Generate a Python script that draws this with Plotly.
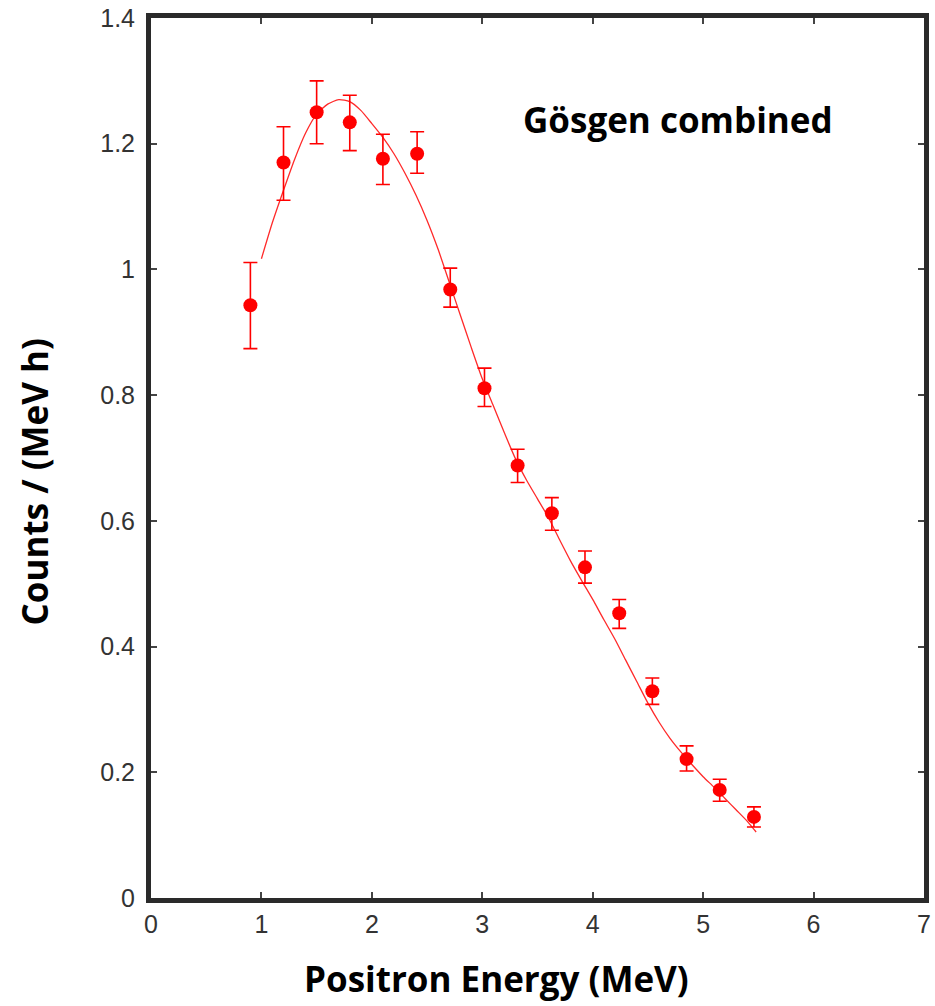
import plotly.graph_objects as go

# Data points (Positron energy in MeV, counts per MeV h)
energy = [0.90, 1.20, 1.50, 1.80, 2.10, 2.41, 2.71, 3.02, 3.32, 3.63, 3.93, 4.24, 4.54, 4.85, 5.15, 5.46]
counts = [0.943, 1.170, 1.250, 1.234, 1.176, 1.184, 0.968, 0.811, 0.688, 0.612, 0.526, 0.453, 0.329, 0.221, 0.172, 0.129]
err_up = [0.068, 0.057, 0.050, 0.043, 0.039, 0.035, 0.034, 0.032, 0.026, 0.025, 0.026, 0.022, 0.021, 0.021, 0.017, 0.016]
err_dn = [0.069, 0.060, 0.050, 0.045, 0.041, 0.031, 0.028, 0.029, 0.027, 0.027, 0.025, 0.024, 0.021, 0.019, 0.018, 0.016]

# Fit curve
fit_x = [1.00, 1.10, 1.20, 1.30, 1.40, 1.50, 1.60, 1.70, 1.80, 1.90, 2.00, 2.10, 2.20, 2.30,
         2.40, 2.50, 2.60, 2.70, 2.80, 2.90, 3.00, 3.10, 3.20, 3.30, 3.40, 3.50, 3.60, 3.70,
         3.80, 3.90, 4.00, 4.10, 4.20, 4.30, 4.40, 4.50, 4.60, 4.70, 4.80, 4.90, 5.00, 5.10,
         5.20, 5.30, 5.40, 5.48]
fit_y = [1.017, 1.075, 1.126, 1.175, 1.217, 1.247, 1.263, 1.270, 1.267, 1.253, 1.232, 1.210,
         1.184, 1.153, 1.118, 1.078, 1.032, 0.980, 0.928, 0.876, 0.826, 0.783, 0.740, 0.699,
         0.665, 0.635, 0.605, 0.570, 0.536, 0.505, 0.475, 0.443, 0.412, 0.378, 0.344, 0.310,
         0.280, 0.254, 0.232, 0.212, 0.193, 0.176, 0.158, 0.140, 0.122, 0.105]

x_ticks = [0, 1, 2, 3, 4, 5, 6, 7]
y_ticks = [0, 0.2, 0.4, 0.6, 0.8, 1.0, 1.2, 1.4]

RED = "#ff0000"
FRAME = "#2a2a2a"

# Plot area in pixels: x 151..931, y 17..898
L, R, T, B = 151, 931, 17, 898
W, H = R - L, B - T


def px(xp, yp):
    return (xp - L) / W, (B - yp) / H


fig = go.Figure()
fig.add_trace(go.Scatter(
    x=fit_x, y=fit_y, mode="lines",
    line=dict(color="#ff2a2a", width=1.3, shape="spline", smoothing=0.6),
    hoverinfo="skip", showlegend=False))
fig.add_trace(go.Scatter(
    x=energy, y=counts, mode="markers",
    marker=dict(color=RED, size=14, line=dict(width=0)),
    error_y=dict(type="data", symmetric=False, array=err_up, arrayminus=err_dn,
                 color=RED, thickness=1.6, width=7),
    showlegend=False))

axis_common = dict(
    showline=True, linewidth=5, linecolor=FRAME, mirror="ticks",
    ticks="inside", ticklen=6, tickwidth=1.5, tickcolor="#444444",
    showgrid=False, zeroline=False,
    tickfont=dict(family="Liberation Sans, Arial, sans-serif", size=25, color="#333333"),
)

fig.update_xaxes(range=[0, 7], tickvals=x_ticks, ticklabelstandoff=0, **axis_common)
fig.update_yaxes(range=[0, 1.4], tickvals=y_ticks, ticklabelstandoff=6, **axis_common)

xa, ya = px(500, 979)
fig.add_annotation(x=xa, y=ya, xref="paper", yref="paper", xanchor="center", yanchor="middle",
                   text="<b>Positron Energy (MeV)</b>", showarrow=False,
                   font=dict(family="Open Sans, sans-serif", size=35, color="black"))
xa, ya = px(33, 482)
fig.add_annotation(x=xa, y=ya, xref="paper", yref="paper", xanchor="center", yanchor="middle",
                   text="<b>Counts / (MeV h)</b>", textangle=-90, showarrow=False,
                   font=dict(family="Open Sans, sans-serif", size=35, color="black"))
xa, ya = px(683, 119)
fig.add_annotation(x=xa, y=ya, xref="paper", yref="paper", xanchor="center", yanchor="middle",
                   text="<b>Gösgen combined</b>", showarrow=False,
                   font=dict(family="Open Sans, sans-serif", size=35, color="black"))

fig.update_layout(
    width=935, height=1006,
    margin=dict(l=L, r=935 - R, t=T, b=1006 - B),
    plot_bgcolor="white", paper_bgcolor="white",
)

fig.write_html("out.html")
